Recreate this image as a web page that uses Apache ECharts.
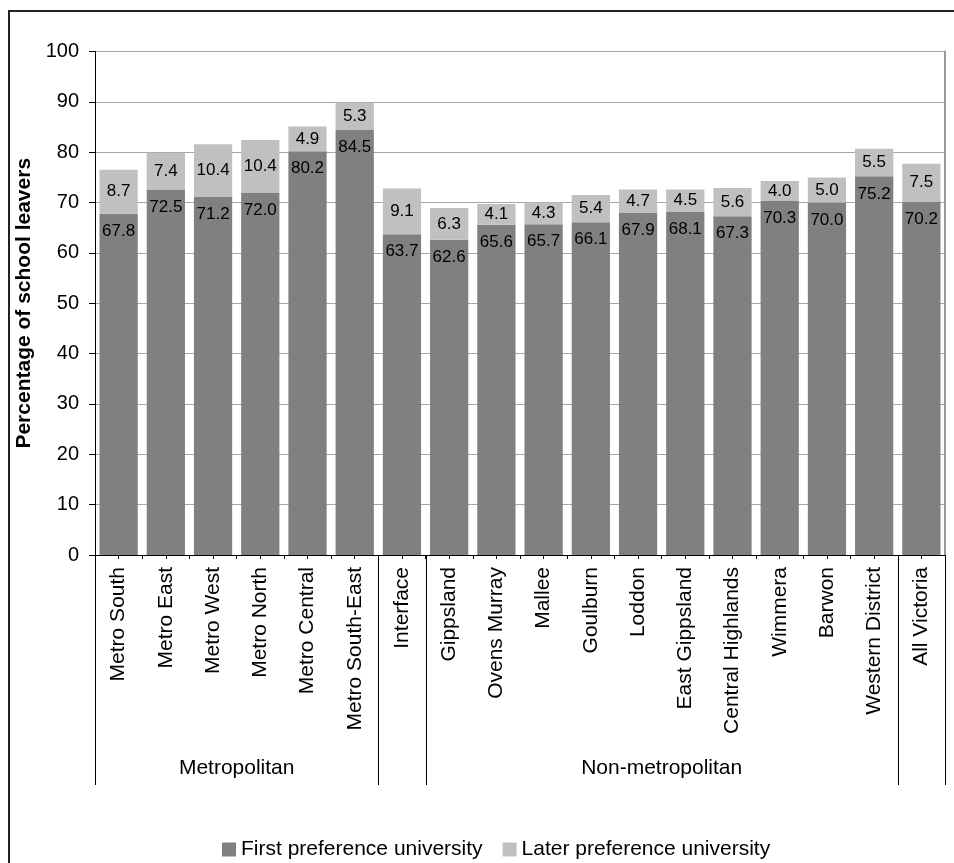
<!DOCTYPE html>
<html><head>
<meta charset="UTF-8">
<title>School leavers</title>
<script src="https://cdn.jsdelivr.net/npm/echarts@6/dist/echarts.min.js"></script>
<style>
  html, body { margin: 0; padding: 0; background: #fff; }
  #chart { width: 954px; height: 863px; }
</style>
</head>
<body>
<div id="chart"></div>
<script>
// data
var categories = ['Metro South', 'Metro East', 'Metro West', 'Metro North', 'Metro Central', 'Metro South-East',
    'Interface',
    'Gippsland', 'Ovens Murray', 'Mallee', 'Goulburn', 'Loddon', 'East Gippsland', 'Central Highlands', 'Wimmera', 'Barwon', 'Western District',
    'All Victoria'];
var firstPref = [67.8, 72.5, 71.2, 72.0, 80.2, 84.5, 63.7, 62.6, 65.6, 65.7, 66.1, 67.9, 68.1, 67.3, 70.3, 70.0, 75.2, 70.2];
var laterPref = [8.7, 7.4, 10.4, 10.4, 4.9, 5.3, 9.1, 6.3, 4.1, 4.3, 5.4, 4.7, 4.5, 5.6, 4.0, 5.0, 5.5, 7.5];
var groupNames = ['Metropolitan', '', 'Non-metropolitan', ''];
var groupStart = [0, 6, 7, 17];
var groupEnd = [6, 7, 17, 18];

var FONT = 'Liberation Sans, Arial, sans-serif';
var chart = echarts.init(document.getElementById('chart'), null, {renderer: 'canvas'});

// helper axis: two tick slots per category (Excel draws ticks at centres and edges)
var halfSlots = [];
for (var i = 0; i < categories.length * 2; i++) halfSlots.push('');

var option = {
    backgroundColor: '#fff',
    animation: false,
    textStyle: {fontFamily: FONT},
    grid: {left: 95, right: 9, top: 51.5, bottom: 308, containLabel: false},
    legend: {
        left: 217, top: 834,
        itemWidth: 14, itemHeight: 14, itemGap: 20,
        icon: 'rect',
        textStyle: {fontSize: 21, color: '#000', fontFamily: FONT},
        data: ['First preference university', 'Later preference university']
    },
    xAxis: [{
        type: 'category',
        data: categories,
        axisLine: {lineStyle: {color: '#000', width: 1}},
        axisTick: {show: false},
        axisLabel: {rotate: 90, interval: 0, margin: 12, fontSize: 21, color: '#000', fontFamily: FONT}
    }, {
        type: 'category',
        data: halfSlots,
        position: 'bottom',
        offset: 0,
        axisLine: {show: false},
        axisTick: {show: true, interval: 0, length: 4, lineStyle: {color: '#000'}},
        axisLabel: {show: false}
    }],
    yAxis: [{
        type: 'value',
        min: 0, max: 100, interval: 10,
        axisLine: {show: true, lineStyle: {color: '#000'}},
        axisTick: {show: true, length: 6, lineStyle: {color: '#000'}},
        axisLabel: {margin: 16, fontSize: 20, color: '#000', fontFamily: FONT},
        splitLine: {show: true, lineStyle: {color: '#a6a6a6', width: 1}},
        name: 'Percentage of school leavers',
        nameLocation: 'middle',
        nameGap: 46,
        nameTextStyle: {fontSize: 21, fontWeight: 'bold', color: '#000', fontFamily: FONT}
    }, {
        type: 'value',
        position: 'right',
        min: 0, max: 100, interval: 10,
        axisLine: {show: true, lineStyle: {color: '#999', width: 2}},
        axisTick: {show: false},
        axisLabel: {show: false},
        splitLine: {show: false}
    }],
    series: [{
        name: 'First preference university',
        type: 'bar',
        stack: 'uni',
        barWidth: '81%',
        itemStyle: {color: '#808080'},
        label: {
            show: true, position: 'insideTop', distance: 9,
            fontSize: 17, color: '#000', fontFamily: FONT,
            formatter: function (p) { return p.value.toFixed(1); }
        },
        data: firstPref
    }, {
        name: 'Later preference university',
        type: 'bar',
        stack: 'uni',
        barWidth: '81%',
        itemStyle: {color: '#c0c0c0'},
        label: {
            show: true, position: 'inside',
            fontSize: 17, color: '#000', fontFamily: FONT,
            formatter: function (p) { return p.value.toFixed(1); }
        },
        data: laterPref
    }]
};
chart.setOption(option);

// group separators and group names under the category labels
function drawGroups() {
    var c0 = chart.convertToPixel({xAxisIndex: 0}, 0);
    var c1 = chart.convertToPixel({xAxisIndex: 0}, 1);
    var w = c1 - c0;
    var yBase = chart.convertToPixel({yAxisIndex: 0}, 0);
    var edge = function (b) { return c0 + (b - 0.5) * w; };
    var els = [];
    var edges = groupStart.concat([groupEnd[groupEnd.length - 1]]);
    edges.forEach(function (b) {
        els.push({
            type: 'line',
            shape: {x1: Math.round(edge(b)) + 0.5, y1: yBase, x2: Math.round(edge(b)) + 0.5, y2: 785},
            style: {stroke: '#000', lineWidth: 1}
        });
    });
    groupNames.forEach(function (n, k) {
        if (!n) return;
        els.push({
            type: 'text',
            x: (edge(groupStart[k]) + edge(groupEnd[k])) / 2,
            y: 768,
            style: {text: n, fontSize: 21, fontFamily: FONT, fill: '#000', align: 'center', verticalAlign: 'middle'}
        });
    });
    // outer chart frame
    els.push({
        type: 'rect',
        shape: {x: 9, y: 11, width: 960, height: 870},
        style: {fill: null, stroke: '#222', lineWidth: 2},
        silent: true
    });
    chart.setOption({graphic: els});
}
drawGroups();
</script>
</body></html>
